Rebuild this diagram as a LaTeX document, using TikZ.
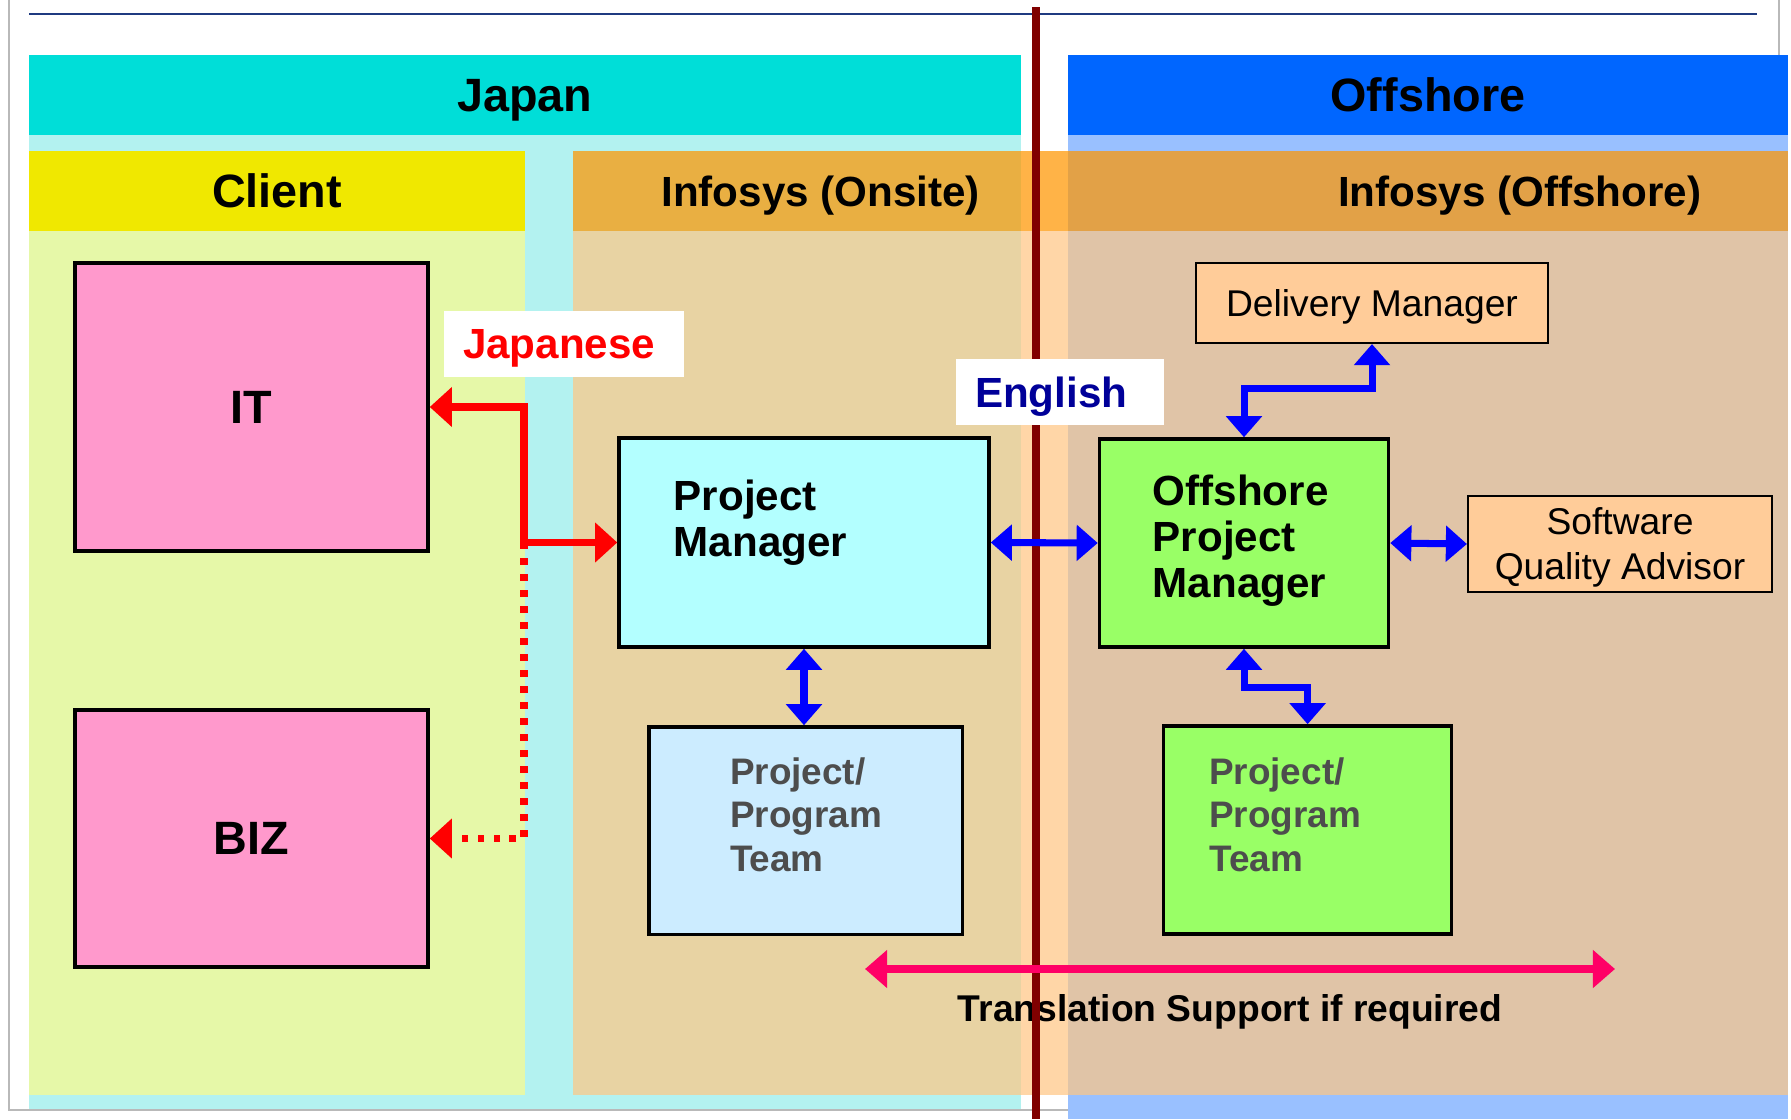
\documentclass[tikz,border=0pt]{standalone}
\usepackage{fontspec}
\setmainfont{Liberation Sans}
\usepackage{xcolor}
\usetikzlibrary{arrows.meta}

\definecolor{japanhead}{RGB}{0,222,216}
\definecolor{japanbody}{RGB}{179,242,240}
\definecolor{offhead}{RGB}{0,102,255}
\definecolor{offbody}{RGB}{153,192,255}
\definecolor{clienthead}{RGB}{240,232,0}
\definecolor{clientbody}{RGB}{230,248,168}
\definecolor{infoshead}{RGB}{255,150,0}
\definecolor{infosbody}{RGB}{255,198,131}
\definecolor{divider}{RGB}{128,0,0}
\definecolor{topline}{RGB}{31,58,128}
\definecolor{pinkfill}{RGB}{255,153,204}
\definecolor{pmfill}{RGB}{179,255,255}
\definecolor{teamfill}{RGB}{204,236,255}
\definecolor{greenfill}{RGB}{153,255,102}
\definecolor{peachfill}{RGB}{255,204,153}
\definecolor{teamgray}{RGB}{77,77,77}
\definecolor{engblue}{RGB}{0,0,153}
\definecolor{transpink}{RGB}{255,0,102}

\begin{document}
\begin{tikzpicture}[
    x=0.1mm, y=-0.1mm,
    bandhead/.style={rectangle, minimum height=8mm, inner sep=0pt, text depth=0pt, font=\fontsize{13.3}{16}\selectfont\bfseries},
    subhead/.style={inner sep=0pt, text depth=0pt, font=\fontsize{12}{14}\selectfont\bfseries},
    box/.style={rectangle, draw, line width=1pt, inner sep=0pt},
    pinkbox/.style={box, fill=pinkfill, minimum width=35.3mm, font=\fontsize{13.3}{16}\selectfont\bfseries},
    thinbox/.style={rectangle, draw, line width=0.6pt, fill=peachfill, inner sep=0pt, text depth=0pt, align=center, font=\fontsize{10.6}{12.8}\selectfont},
    boxtext/.style={anchor=base west, inner sep=0pt, align=left, text width=40mm, font=\fontsize{12}{13.2}\selectfont\bfseries},
    teamtext/.style={boxtext, text=teamgray, font=\fontsize{10.5}{12.5}\selectfont\bfseries},
    langlabel/.style={rectangle, fill=white, inner ysep=0pt, inner xsep=1.9mm, align=left, minimum height=6.6mm, text depth=0pt, font=\fontsize{12}{14}\selectfont\bfseries},
    redarrow/.style={draw=red, line width=2pt, {Triangle[length=6.3pt,width=11pt]}-{Triangle[length=6.3pt,width=11pt]}},
    reddots/.style={draw=red, line width=2pt, dash pattern=on 1.9pt off 2.65pt, -{Triangle[length=6.3pt,width=11pt]}},
    bluearrow/.style={draw=blue, line width=2pt, {Triangle[length=6pt,width=10pt]}-{Triangle[length=6pt,width=10pt]}},
    pinkarrow/.style={draw=transpink, line width=2.4pt, {Triangle[length=6.3pt,width=10.5pt]}-{Triangle[length=6.3pt,width=10.5pt]}}
]
\useasboundingbox (0,0) rectangle (1791,1119);
\fill[white] (0,0) rectangle (1791,1119);

% Frame
\draw[gray!55, line width=0.8pt] (9,-10) rectangle (1779,1110);
\draw[topline, line width=0.8pt] (29,14) -- (1757,14);

% Japan / Offshore
\fill[japanbody] (29,135) rectangle (1021,1109);
\fill[offbody] (1068,135) rectangle (1788,1119);
\node[bandhead, fill=japanhead, minimum width=99.2mm] (japan) at (525,95) {Japan};
\node[bandhead, fill=offhead, minimum width=72mm] (offshore) at (1428,95) {Offshore};

% Client
\fill[clientbody] (29,231) rectangle (525,1095);
\node[bandhead, fill=clienthead, minimum width=49.6mm] (client) at (277,191) {Client};

% Infosys
\fill[infoshead, fill opacity=0.72] (572.6,151) rectangle (1788,231);
\fill[infosbody, fill opacity=0.7] (572.6,231) rectangle (1788,1095);
\node[subhead] (onsite) at (820.7,191) {Infosys (Onsite)};
\node[subhead] (offsite) at (1519.7,191) {Infosys (Offshore)};

% Client boxes
\node[pinkbox, minimum height=28.8mm] (it) at (251.5,407) {IT};
\node[pinkbox, minimum height=25.7mm] (biz) at (251.5,838.5) {BIZ};

% Onsite boxes
\node[box, fill=pmfill, minimum width=37mm, minimum height=20.9mm] (pm) at (804,542.5) {};
\node[boxtext] (pmtext) at (673,510) {Project\\Manager};
\node[box, fill=teamfill, minimum width=31.35mm, minimum height=20.75mm] (onteam) at (805.75,830.75) {};
\node[teamtext] (onteamtext) at (729.4,784) {Project/\\Program\\Team};

% Offshore boxes
\node[thinbox, minimum width=35.2mm, minimum height=8mm] (dm) at (1372,303) {Delivery Manager};
\node[box, fill=greenfill, minimum width=28.9mm, minimum height=20.8mm] (opm) at (1244,543) {};
\node[boxtext] (opmtext) at (1152,505) {Offshore\\Project\\Manager};
\node[thinbox, minimum width=30.4mm, minimum height=9.6mm] (sqa) at (1620,544) {Software\\Quality Advisor};
\node[box, fill=greenfill, minimum width=28.8mm, minimum height=20.8mm] (offteam) at (1307.6,830) {};
\node[teamtext] (offteamtext) at (1208.5,784) {Project/\\Program\\Team};

\node[anchor=base, inner sep=0pt, font=\fontsize{10.6}{12.8}\selectfont\bfseries] (tsnote) at (1230,1021.7) {Translation Support if required};

% Divider
\draw[divider, line width=2.3pt] (1036,7) -- (1036,1119);

% Languages
\node[langlabel, text=red, text width=20.2mm] (japanese) at (564,344) {Japanese};
\node[langlabel, text=engblue, text width=17mm] (english) at (1060,392) {English};

% Arrows
\coordinate (jpsplit) at (524,542.5);
\draw[redarrow] (it.east) -| (jpsplit) -- (pm.west);
\draw[reddots] (jpsplit) |- (biz.east);

\draw[bluearrow] (pm.east) -- (opm.west);
\draw[bluearrow] (pm.south) -- (pm.south |- onteam.north);
\draw[bluearrow] (opm.north) -- ++(0,-49) -| (dm.south);
\draw[bluearrow] (opm.east) -- (sqa.west);
\draw[bluearrow] (opm.south) -- ++(0,39) -| (offteam.north);

\coordinate (tsleft) at (865,969);
\coordinate (tsright) at (1615,969);
\draw[pinkarrow] (tsleft) -- (tsright);

\end{tikzpicture}
\end{document}
